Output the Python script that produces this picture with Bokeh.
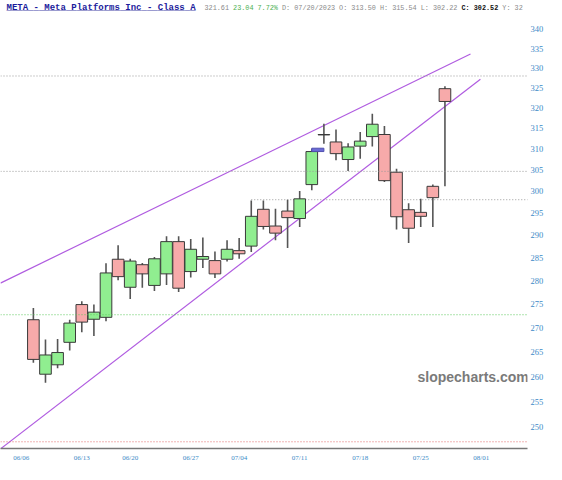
from bokeh.plotting import figure
from bokeh.models import Range1d, FixedTicker, PrintfTickFormatter, Label, Span, ColumnDataSource
from bokeh.embed import file_html
from bokeh.resources import INLINE

# ---------------- data (META daily candles) ----------------
dates = ["06/07", "06/08", "06/09", "06/12", "06/13", "06/14", "06/15", "06/16",
         "06/20", "06/21", "06/22", "06/23", "06/26", "06/27", "06/28", "06/29",
         "06/30", "07/03", "07/05", "07/06", "07/07", "07/10", "07/11", "07/12",
         "07/13", "07/14", "07/17", "07/18", "07/19", "07/20", "07/21", "07/24",
         "07/25", "07/26", "07/27"]
opens = [271.7, 260.5, 262.4, 267.0, 274.9, 271.8, 272.2, 284.7, 278.6, 283.5,
         279.0, 281.5, 288.6, 282.0, 284.7, 284.4, 284.7, 286.6, 287.6, 295.9,
         292.1, 295.5, 293.8, 301.6, 313.4, 311.7, 307.5, 310.7, 313.0, 313.50,
         304.5, 295.8, 295.2, 301.2, 324.8]
highs = [274.2, 267.6, 267.7, 271.7, 275.6, 274.9, 283.8, 287.8, 284.8, 283.9,
         285.2, 289.8, 289.8, 289.2, 289.5, 286.4, 288.9, 289.4, 297.9, 297.9,
         296.0, 298.1, 300.1, 310.1, 316.1, 314.7, 311.4, 314.1, 318.6, 315.54,
         305.3, 297.3, 298.3, 301.6, 325.4]
lows = [262.8, 258.8, 261.7, 265.3, 269.1, 268.3, 271.4, 280.1, 276.1, 278.5,
        277.8, 279.1, 277.6, 280.7, 282.8, 280.6, 284.2, 284.8, 286.3, 291.3,
        288.9, 287.2, 291.9, 300.3, 311.3, 307.3, 304.8, 307.7, 310.6, 302.22,
        291.3, 288.3, 291.9, 291.9, 301.2]
closes = [263.5, 264.4, 264.9, 271.0, 271.2, 273.3, 281.7, 280.9, 284.3, 281.5,
          284.8, 288.6, 278.4, 286.9, 285.3, 281.5, 286.9, 285.9, 294.3, 292.0,
          290.5, 294.0, 298.3, 309.4, 313.5, 308.9, 310.5, 311.9, 316.0, 302.52,
          294.2, 291.6, 294.3, 298.57, 321.61]

# x-axis ticks (trading-day index; 0 = 06/06) and their labels
tick_pos = [0, 5, 9, 14, 18, 23, 28, 33, 38]
tick_labels = ["06/06", "06/13", "06/20", "06/27", "07/04", "07/11", "07/18", "07/25", "08/01"]
price_ticks = [250, 255, 260, 265, 270, 275, 280, 285, 290, 295, 300, 305, 310, 315,
               320, 325, 330, 335, 340]

# trend channel (index, price) end points
upper_x = [-1.72, 37.11]
upper_y = [279.5, 333.6]
lower_x = [-1.72, 37.93]
lower_y = [245.9, 327.2]

# horizontal levels
level_gray = [328.0, 304.7]
level_green = 272.75
level_red = 247.25
ray_start = 19
ray_price = 298.1

# highlighted box (gap marker)
box_left, box_right = [24.0], [25.0]
box_bottom, box_top = [309.4], [310.2]

# header values
header_name = "META - Meta Platforms Inc - Class A"
header_parts = [("321.61", "#8a8a8a", "normal"),
                ("23.04 7.72%", "#4caf50", "normal"),
                ("D: 07/20/2023 O: 313.50 H: 315.54 L: 302.22", "#8a8a8a", "normal"),
                ("C: 302.52", "#111111", "bold"),
                ("Y: 32", "#8a8a8a", "normal")]

# ---------------- figure ----------------
idx = list(range(1, len(dates) + 1))
GREEN, RED = "#90ee90", "#f7aaaa"
src = ColumnDataSource(dict(
    x=idx,
    top=[max(o, c) for o, c in zip(opens, closes)],
    bottom=[min(o, c) for o, c in zip(opens, closes)],
    high=highs, low=lows,
    color=[GREEN if c >= o else RED for o, c in zip(opens, closes)],
))

p = figure(width=546, height=464, output_backend="svg", toolbar_location=None,
           y_axis_type="log", y_axis_location="right",
           x_range=Range1d(-1.716, 41.82), y_range=Range1d(245.97, 347.7),
           min_border_left=0, min_border_right=17, min_border_top=0, min_border_bottom=16)
p.outline_line_color = None
p.xgrid.visible = False
p.ygrid.visible = False
p.background_fill_color = "white"

# horizontal levels
for lv in level_gray:
    p.add_layout(Span(location=lv, dimension="width", line_color="#9a9a9a",
                      line_dash="1 2", line_width=1))
p.add_layout(Span(location=level_green, dimension="width", line_color="#5cc85c",
                  line_dash="1 2", line_width=1))
p.add_layout(Span(location=level_red, dimension="width", line_color="#e06868",
                  line_dash="1 2", line_width=1))
p.segment(x0=[ray_start], y0=[ray_price], x1=[60], y1=[ray_price],
          line_color="#9a9a9a", line_dash="1 2", line_width=1)

# trend channel
p.line(upper_x, upper_y, line_color="#b05ce0", line_width=1.2)
p.line(lower_x, lower_y, line_color="#b05ce0", line_width=1.2)

# candles
p.segment(x0="x", y0="low", x1="x", y1="high", source=src, line_color="#555555", line_width=1.6)
p.vbar(x="x", top="top", bottom="bottom", width=0.96, source=src,
       fill_color="color", line_color="#3a3a3a", line_width=1)

# gap marker
p.quad(left=box_left, right=box_right, bottom=box_bottom, top=box_top,
       fill_color="#6b6bd6", line_color="#5050b0", line_width=1)

# axes
xa = p.xaxis[0]
xa.ticker = FixedTicker(ticks=tick_pos)
xa.major_label_overrides = {t: l for t, l in zip(tick_pos, tick_labels)}
xa.major_label_text_align = "left"
xa.major_label_text_font = "Liberation Serif"
xa.major_label_text_font_size = "7px"
xa.major_label_text_color = "#3d8ac7"
xa.major_label_standoff = 5
xa.major_tick_out = 0
xa.major_tick_in = 0
xa.minor_tick_out = 0
xa.minor_tick_in = 0
xa.axis_line_color = "#777777"
xa.axis_line_width = 1.5

ya = p.yaxis[0]
ya.ticker = FixedTicker(ticks=price_ticks)
ya.formatter = PrintfTickFormatter(format="%d")
ya.major_label_text_font = "Liberation Serif"
ya.major_label_text_font_size = "8.5px"
ya.major_label_text_color = "#3d8ac7"
ya.major_label_standoff = 3
ya.major_tick_out = 0
ya.major_tick_in = 0
ya.minor_tick_out = 0
ya.minor_tick_in = 0
ya.axis_line_color = None

# watermark
p.add_layout(Label(x=417, y=72, x_units="screen", y_units="screen", text="slopecharts.com",
                   text_font="Liberation Sans", text_font_style="bold", text_font_size="14px",
                   text_color="#7a7a7a", text_baseline="middle"))

# header (inside the frame, top strip)
HY = 441
def hdr(x, text, color, size, style):
    p.add_layout(Label(x=x, y=HY, x_units="screen", y_units="screen", text=text,
                       text_font="Liberation Mono", text_font_size=size, text_font_style=style,
                       text_color=color, text_baseline="middle"))

hdr(6, header_name, "#1c1c9c", "9px", "bold")
hdr(6, "_" * len(header_name), "#1c1c9c", "9px", "bold")
FS = 6.8
cw = 0.6 * FS
xpos = 204
for text, color, style in header_parts:
    hdr(xpos, text, color, f"{FS}px", style)
    xpos += (len(text) + 1) * cw

open("out.html", "w").write(file_html(p, INLINE))
